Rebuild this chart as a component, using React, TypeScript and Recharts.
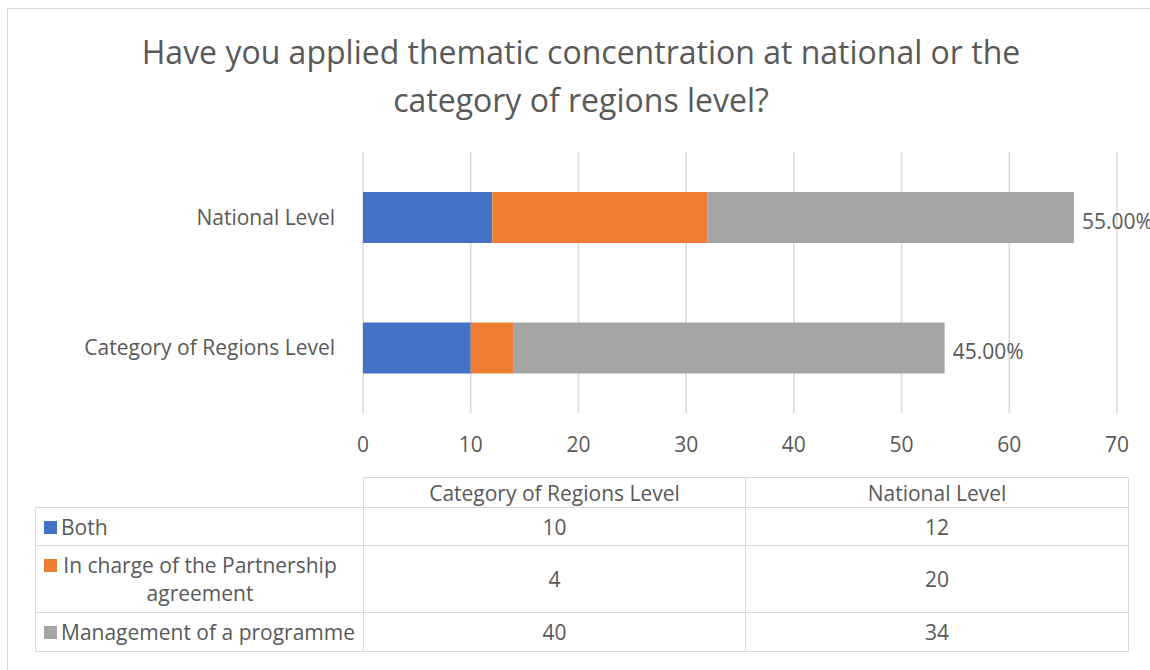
import { BarChart, Bar, XAxis, YAxis, CartesianGrid, LabelList } from "recharts";

const categories = ["Category of Regions Level", "National Level"];
const seriesNames = ["Both", "In charge of the Partnership agreement", "Management of a programme"];
const both = [10, 12];
const partnership = [4, 20];
const management = [40, 34];
const xTicks = [0, 10, 20, 30, 40, 50, 60, 70];

const COLORS = ["#4472C4", "#ED7D31", "#A5A5A5"];
const TEXT = "#595959";
const LINE = "#d9d9d9";

const rows = categories.map((name, i) => ({
  name,
  both: both[i],
  partnership: partnership[i],
  management: management[i],
  total: both[i] + partnership[i] + management[i],
}));
const grandTotal = rows.reduce((s, r) => s + r.total, 0);
const seriesValues = [both, partnership, management];

function PercentLabel(props: any) {
  const { x, y, width, height, index } = props;
  const pct = (rows[index].total / grandTotal) * 100;
  return (
    <text x={x + width + 8} y={y + height / 2 + 11} fill={TEXT} fontSize={21}>
      {pct.toFixed(2)}%
    </text>
  );
}

export default function App() {
  return (
    <div
      style={{
        position: "absolute",
        left: 0,
        top: 0,
        width: 1150,
        height: 670,
        overflow: "hidden",
        background: "#fff",
        fontFamily: "'Open Sans', sans-serif",
        color: TEXT,
      }}
    >
      {/* outer chart border */}
      <div style={{ position: "absolute", left: 7, top: 8, width: 1170, height: 700, border: `1px solid ${LINE}` }} />

      <div
        style={{
          position: "absolute",
          left: 0,
          top: 28,
          width: 1162,
          textAlign: "center",
          fontSize: 32,
          lineHeight: "48px",
        }}
      >
        Have you applied thematic concentration at national or the
        <br />
        category of regions level?
      </div>

      <div style={{ position: "absolute", left: 0, top: 0 }}>
        <BarChart
          width={1150}
          height={470}
          data={rows}
          layout="vertical"
          margin={{ top: 152, right: 33, bottom: 0, left: 0 }}
          barSize={51}
        >
          <CartesianGrid horizontal={false} stroke={LINE} strokeWidth={1.5} />
          <XAxis
            type="number"
            domain={[0, 70]}
            ticks={xTicks}
            axisLine={false}
            tickLine={false}
            tickSize={0}
            tickMargin={24}
            height={57}
            tick={{ fontSize: 21, fill: TEXT }}
          />
          <YAxis
            type="category"
            dataKey="name"
            reversed
            width={363}
            axisLine={false}
            tickLine={false}
            tickSize={0}
            tickMargin={28}
            tick={{ fontSize: 21, fill: TEXT }}
          />
          <Bar dataKey="both" stackId="a" fill={COLORS[0]} isAnimationActive={false} />
          <Bar dataKey="partnership" stackId="a" fill={COLORS[1]} isAnimationActive={false} />
          <Bar dataKey="management" stackId="a" fill={COLORS[2]} isAnimationActive={false}>
            <LabelList dataKey="management" content={PercentLabel} />
          </Bar>
        </BarChart>
      </div>

      <table
        style={{
          position: "absolute",
          left: 35,
          top: 477,
          borderCollapse: "collapse",
          fontSize: 21,
          color: TEXT,
          tableLayout: "fixed",
        }}
      >
        <colgroup>
          <col style={{ width: 328 }} />
          <col style={{ width: 382 }} />
          <col style={{ width: 383 }} />
        </colgroup>
        <tbody>
          <tr style={{ height: 30 }}>
            <td style={{ border: "none", borderRight: `1.5px solid ${LINE}`, borderBottom: `1.5px solid ${LINE}` }} />
            {categories.map((c) => (
              <td key={c} style={{ border: `1.5px solid ${LINE}`, textAlign: "center", padding: 0, lineHeight: "26px" }}>
                {c}
              </td>
            ))}
          </tr>
          {seriesNames.map((s, si) => (
            <tr key={s} style={{ height: si === 1 ? 67 : si === 0 ? 38 : 39 }}>
              <td style={{ border: `1.5px solid ${LINE}`, padding: "0 0 0 8px" }}>
                <div style={{ display: "flex", alignItems: "flex-start" }}>
                  <span
                    style={{
                      display: "inline-block",
                      width: 13,
                      height: 13,
                      background: COLORS[si],
                      marginTop: 8,
                      marginRight: 4,
                      flexShrink: 0,
                    }}
                  />
                  <span
                    style={
                      si === 1
                        ? { textAlign: "center", lineHeight: "28px", maxWidth: 278 }
                        : { lineHeight: "28px", whiteSpace: "nowrap" }
                    }
                  >
                    {s}
                  </span>
                </div>
              </td>
              {seriesValues[si].map((v, ci) => (
                <td key={ci} style={{ border: `1.5px solid ${LINE}`, textAlign: "center", padding: 0 }}>
                  {v}
                </td>
              ))}
            </tr>
          ))}
        </tbody>
      </table>
    </div>
  );
}
